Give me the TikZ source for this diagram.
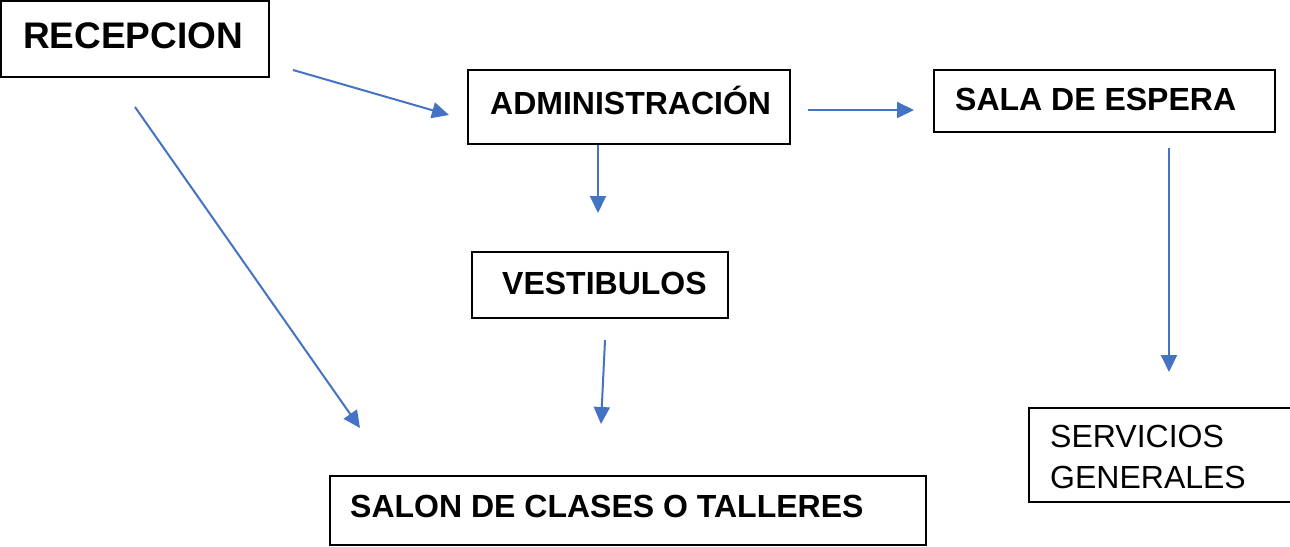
\documentclass[tikz,border=0pt]{standalone}
\usepackage{fontspec}
\setmainfont{Liberation Sans}
\usetikzlibrary{arrows.meta}
\definecolor{flecha}{RGB}{68,114,196}
\tikzset{
  caja/.style={draw=black, line width=1.6pt, inner sep=0pt},
  rotulo/.style={anchor=base west, inner sep=0pt, font=\fontsize{32}{38}\selectfont\bfseries},
  conecta/.style={draw=flecha, line width=2pt, -{Triangle[length=17pt,width=16pt]}}
}
\begin{document}
\begin{tikzpicture}[x=1pt, y=-1pt]
\useasboundingbox (0,0) rectangle (1290,546);
% cajas
\draw[caja] (1,1) rectangle (269,77);
\draw[caja] (468,70) rectangle (790,144);
\draw[caja] (934,70) rectangle (1275,132);
\draw[caja] (472,252) rectangle (728,318);
\draw[caja] (1029,408) rectangle (1295,502);
\draw[caja] (330,476) rectangle (926,545);
% textos
\node[rotulo, font=\fontsize{37}{42}\selectfont\bfseries] (recepcion) at (23,48) {RECEPCION};
\node[rotulo] (admin) at (490,114) {ADMINISTRACIÓN};
\node[rotulo] (espera) at (955,110) {SALA DE ESPERA};
\node[rotulo] (vestibulos) at (502,294) {VESTIBULOS};
\node[rotulo] (salon) at (350,517) {SALON DE CLASES O TALLERES};
\node[rotulo, font=\fontsize{32}{38}\selectfont, align=left, anchor=north west] (servicios) at (1050,425) {SERVICIOS\\[3pt]GENERALES};
% flechas
\coordinate (a1) at (293,70);   \coordinate (b1) at (449,115);
\coordinate (a2) at (135,107);  \coordinate (b2) at (360,428);
\coordinate (a3) at (808,110);  \coordinate (b3) at (914,110);
\coordinate (a4) at (598,145);  \coordinate (b4) at (598,213);
\coordinate (a5) at (605,340);  \coordinate (b5) at (601,424);
\coordinate (a6) at (1169,148); \coordinate (b6) at (1169,372);
\foreach \i in {1,...,6} {
  \draw[conecta] (a\i) -- (b\i);
}
\end{tikzpicture}
\end{document}
